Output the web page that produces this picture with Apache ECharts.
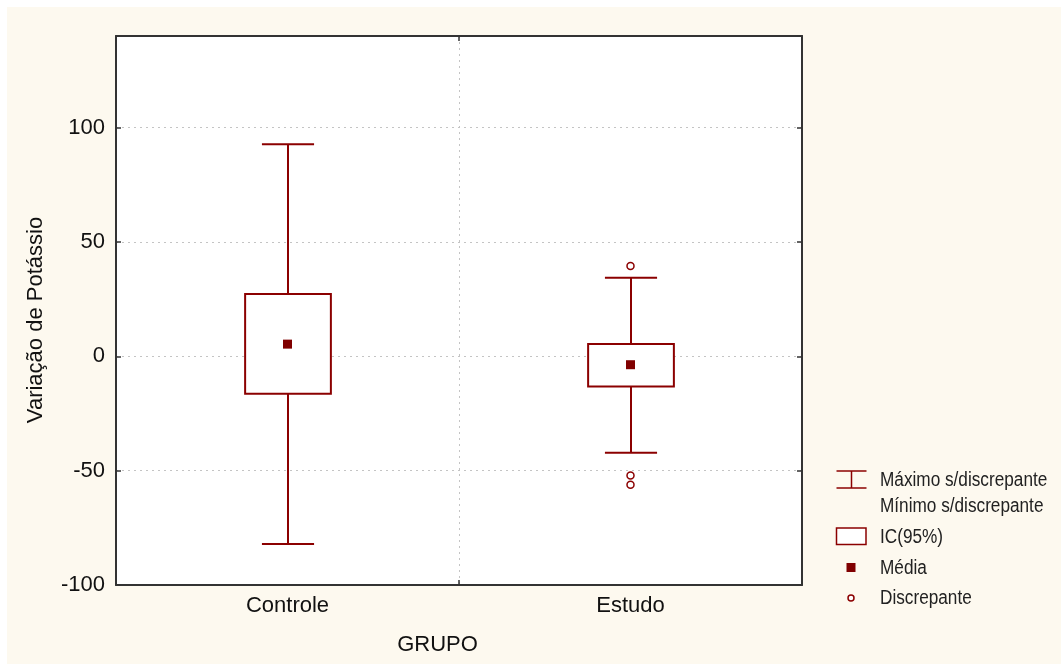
<!DOCTYPE html>
<html>
<head>
<meta charset="utf-8">
<script src="https://cdn.jsdelivr.net/npm/echarts@6/dist/echarts.min.js"></script>
<style>
html,body{margin:0;padding:0;background:#fff;}
#chart{position:absolute;left:7px;top:7px;width:1054px;height:657px;}
</style>
</head>
<body>
<div id="chart"></div>
<script>
// ---- data ----
var categories = ['Controle', 'Estudo'];
var whiskerMax = [92.7, 34.3];
var ciHigh = [27.2, 5.4];
var meanVal = [5.3, -3.7];
var ciLow = [-16.4, -13.2];
var whiskerMin = [-82.1, -42.2];
var outlierCat = ['Estudo', 'Estudo', 'Estudo'];
var outlierVal = [39.5, -52.1, -56.2];
var yTicks = { min: -100, max: 140, interval: 50 };
var legendLabels = ['Máximo s/discrepante', 'Mínimo s/discrepante', 'IC(95%)', 'Média', 'Discrepante'];
var axisNames = { x: 'GRUPO', y: 'Variação de Potássio' };

var RED = '#8b0000';
var FONT = "'Liberation Sans', Arial, sans-serif";

var boxData = categories.map(function (c, i) {
  return [i, whiskerMin[i], ciLow[i], ciHigh[i], whiskerMax[i]];
});
var meanData = categories.map(function (c, i) { return [c, meanVal[i]]; });
var outlierData = outlierCat.map(function (c, i) { return [c, outlierVal[i]]; });

function renderBox(params, api) {
  var x = api.value(0);
  var pMin = api.coord([x, api.value(1)]);
  var pLo = api.coord([x, api.value(2)]);
  var pHi = api.coord([x, api.value(3)]);
  var pMax = api.coord([x, api.value(4)]);
  var band = api.size([1, 0])[0];
  var bw = band * 0.25, cw = band * 0.152;
  var cx = Math.round(pLo[0]);
  var st = { stroke: RED, lineWidth: 2, fill: null };
  return {
    type: 'group',
    children: [
      { type: 'line', shape: { x1: cx, y1: pHi[1], x2: cx, y2: pMax[1] }, style: st },
      { type: 'line', shape: { x1: cx, y1: pLo[1], x2: cx, y2: pMin[1] }, style: st },
      { type: 'line', shape: { x1: cx - cw / 2, y1: pMax[1], x2: cx + cw / 2, y2: pMax[1] }, style: st },
      { type: 'line', shape: { x1: cx - cw / 2, y1: pMin[1], x2: cx + cw / 2, y2: pMin[1] }, style: st },
      { type: 'rect', shape: { x: cx - bw / 2, y: pHi[1], width: bw, height: pLo[1] - pHi[1] },
        style: { stroke: RED, lineWidth: 2, fill: '#fff' } }
    ]
  };
}

var labelStyle = { color: '#111', fontSize: 22, fontFamily: FONT };
var tickStyle = { show: true, inside: true, length: 5, lineStyle: { color: '#333', width: 1.5 } };
var frameLine = { show: true, onZero: false, lineStyle: { color: '#333', width: 2 } };
var splitStyle = { show: true, showMinLine: false, showMaxLine: false,
                   lineStyle: { color: '#c4c4c4', type: [2, 4], width: 1 } };

// legend positions (chart coords)
var LX = 829.5, TX = 873;
var legendGraphics = [
  { type: 'line', shape: { x1: LX, y1: 464, x2: LX + 30, y2: 464 }, style: { stroke: RED, lineWidth: 1.5 } },
  { type: 'line', shape: { x1: LX, y1: 481, x2: LX + 30, y2: 481 }, style: { stroke: RED, lineWidth: 1.5 } },
  { type: 'line', shape: { x1: LX + 15, y1: 464, x2: LX + 15, y2: 481 }, style: { stroke: RED, lineWidth: 1.5 } },
  { type: 'rect', shape: { x: LX, y: 521, width: 29.5, height: 16.5 }, style: { stroke: RED, lineWidth: 1.5, fill: '#fff' } },
  { type: 'rect', shape: { x: 839.5, y: 556, width: 9, height: 9 }, style: { fill: '#800000' } },
  { type: 'circle', shape: { cx: 844, cy: 591, r: 3 }, style: { stroke: RED, lineWidth: 1.5, fill: '#fff' } }
];
var legendY = [473, 499, 530, 561, 591];
legendLabels.forEach(function (t, i) {
  legendGraphics.push({ type: 'text', x: TX, y: legendY[i], scaleX: 0.86,
    style: { text: t, fill: '#222', font: '20px ' + FONT, textAlign: 'left', textVerticalAlign: 'middle' } });
});
legendGraphics.push({ type: 'text', x: 28.5, y: 313, rotation: Math.PI / 2,
  style: { text: axisNames.y, fill: '#111', font: '22px ' + FONT, textAlign: 'center', textVerticalAlign: 'middle' } });
legendGraphics.push({ type: 'text', x: 430.5, y: 638,
  style: { text: axisNames.x, fill: '#111', font: '22px ' + FONT, textAlign: 'center', textVerticalAlign: 'middle' } });

var chart = echarts.init(document.getElementById('chart'), null, { renderer: 'canvas' });
chart.setOption({
  backgroundColor: '#fdf9ef',
  animation: false,
  grid: { left: 109, top: 29, right: 259, bottom: 79, show: true, backgroundColor: '#fff', borderWidth: 0 },
  xAxis: [
    { type: 'category', data: categories, position: 'bottom', boundaryGap: true,
      axisLine: frameLine, axisTick: tickStyle,
      axisLabel: Object.assign({ margin: 10 }, labelStyle), splitLine: splitStyle },
    { type: 'category', data: categories, position: 'top', boundaryGap: true,
      axisLine: frameLine, axisTick: tickStyle, axisLabel: { show: false }, splitLine: { show: false } }
  ],
  yAxis: [
    { type: 'value', min: yTicks.min, max: yTicks.max, interval: yTicks.interval, position: 'left',
      axisLine: frameLine, axisTick: tickStyle,
      axisLabel: Object.assign({ margin: 11, showMaxLabel: false }, labelStyle), splitLine: splitStyle },
    { type: 'value', min: yTicks.min, max: yTicks.max, interval: yTicks.interval, position: 'right',
      axisLine: frameLine, axisTick: tickStyle, axisLabel: { show: false }, splitLine: { show: false } }
  ],
  graphic: legendGraphics,
  series: [
    { type: 'custom', renderItem: renderBox, data: boxData, encode: { x: 0, y: [1, 2, 3, 4] }, z: 3 },
    { type: 'scatter', data: meanData, symbol: 'rect', symbolSize: 9, itemStyle: { color: '#800000', opacity: 1 }, z: 4 },
    { type: 'scatter', data: outlierData, symbol: 'circle', symbolSize: 7,
      itemStyle: { color: '#fff', borderColor: RED, borderWidth: 1.5, opacity: 1 }, z: 4 }
  ]
});
</script>
</body>
</html>
